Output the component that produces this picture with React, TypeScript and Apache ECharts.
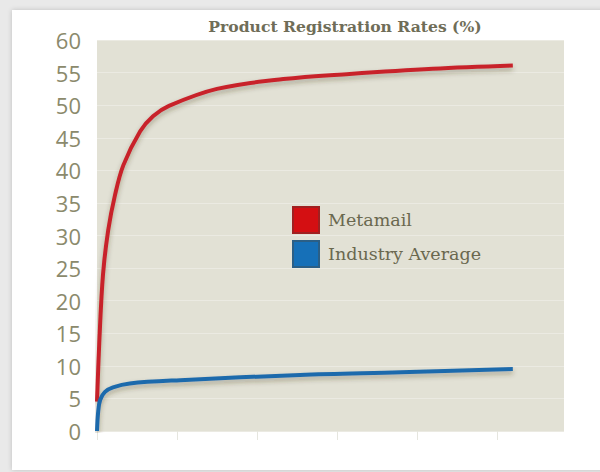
import React, { useEffect, useRef } from "react";
import * as echarts from "echarts";

const TITLE = "Product Registration Rates (%)";
const SERIES_NAMES = ["Metamail", "Industry Average"];
const metamailX = [0, 0.03, 0.075, 0.14, 0.225, 0.33, 0.54, 0.7, 0.9, 1.5, 2.33, 3.16, 4.2, 5.2];
const metamailY = [4.5, 14, 24, 30.8, 36.2, 40.8, 46, 48.3, 49.9, 52.5, 54, 54.8, 55.6, 56.1];
const industryX = [0, 0.015, 0.04, 0.1, 0.2, 0.41, 1.04, 2.54, 3.8, 5.2];
const industryY = [0, 3, 4.8, 6, 6.7, 7.3, 7.8, 8.6, 9.0, 9.5];
const xTicks = [0, 1, 2, 3, 4, 5];
const X_MAX = 5.84;
const Y_MIN = 0;
const Y_MAX = 60;
const Y_STEP = 5;

function pairs(xs: number[], ys: number[]) {
  return xs.map((x, i) => [x, ys[i]]);
}

export default function App() {
  const ref = useRef<HTMLDivElement>(null);
  useEffect(() => {
    if (!ref.current) return;
    const chart = echarts.init(ref.current, undefined, { renderer: "svg" });
    const lineShadow = {
      shadowColor: "rgba(60,50,30,0.35)",
      shadowBlur: 5,
      shadowOffsetY: 3,
    };
    chart.setOption({
      animation: false,
      title: {
        text: TITLE,
        left: 340,
        textAlign: "center",
        top: 13,
        textStyle: {
          fontFamily: "DejaVu Serif",
          fontWeight: "bold",
          fontSize: 15.6,
          color: "#6f6d58",
        },
      },
      legend: {
        orient: "vertical",
        left: 287,
        top: 201,
        itemWidth: 26,
        itemHeight: 26,
        itemGap: 6,
        icon: "rect",
        data: SERIES_NAMES,
        textStyle: {
          fontFamily: "DejaVu Serif",
          fontSize: 17.5,
          color: "#6a684f",
          padding: [0, 0, 0, 4],
        },
      },
      grid: {
        left: 97,
        top: 40,
        width: 467,
        height: 391,
        show: true,
        backgroundColor: "#e2e1d5",
        borderWidth: 0,
      },
      xAxis: {
        type: "value",
        min: 0,
        max: X_MAX,
        interval: 1,
        axisLine: { show: false },
        axisLabel: { show: false },
        splitLine: { show: false },
        axisTick: {
          show: true,
          length: 9,
          customValues: xTicks,
          lineStyle: { color: "#e6e6df", width: 1 },
        },
      },
      yAxis: {
        type: "value",
        min: Y_MIN,
        max: Y_MAX,
        interval: Y_STEP,
        axisLine: { show: false },
        axisTick: { show: false },
        axisLabel: {
          margin: 16,
          fontFamily: "Open Sans",
          fontSize: 22,
          color: "#8b8a6c",
        },
        splitLine: { lineStyle: { color: "#ebeae2", width: 1 } },
      },
      series: [
        {
          name: SERIES_NAMES[0],
          type: "line",
          data: pairs(metamailX, metamailY),
          smooth: 0.35,
          showSymbol: false,
          symbol: "none",
          color: "#c8232c",
          lineStyle: { width: 4, color: "#c8232c", ...lineShadow },
          itemStyle: { color: "#d40f12", borderColor: "#a02020", borderWidth: 1 },
        },
        {
          name: SERIES_NAMES[1],
          type: "line",
          data: pairs(industryX, industryY),
          smooth: 0.35,
          showSymbol: false,
          symbol: "none",
          color: "#1d6aac",
          lineStyle: { width: 4, color: "#1d6aac", ...lineShadow },
          itemStyle: { color: "#1670b8", borderColor: "#2b5f86", borderWidth: 1 },
        },
      ],
    });
    return () => chart.dispose();
  }, []);
  return (
    <div
      style={{
        position: "fixed",
        left: 0,
        top: 0,
        width: 600,
        height: 472,
        background: "#e9e9e9",
        overflow: "hidden",
      }}
    >
      <div
        style={{
          position: "absolute",
          left: 12,
          top: 10,
          width: 600,
          height: 460,
          background: "#ffffff",
          boxShadow: "0 0 5px rgba(0,0,0,0.18)",
        }}
      />
      <div ref={ref} style={{ position: "absolute", left: 0, top: 0, width: 600, height: 472 }} />
    </div>
  );
}
